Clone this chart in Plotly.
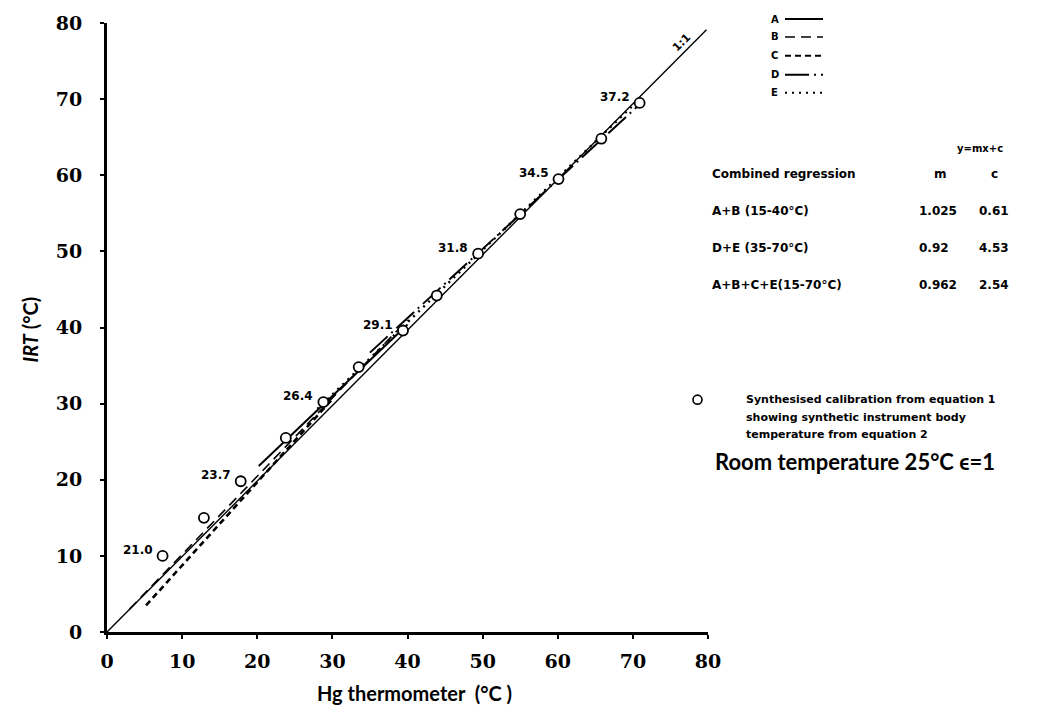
import plotly.graph_objects as go

# ---- data -------------------------------------------------------------
# end points of each calibration line (Hg thermometer °C, IRT °C)
one_to_one_x = [0.0, 79.8]
one_to_one_y = [0.0, 79.1]
A_x = [20.2, 40.0]
A_y = [21.8, 40.4]
B_x = [3.0, 40.0]
B_y = [3.0, 41.0]
C_x = [5.2, 30.0]
C_y = [3.5, 30.6]
D_x = [35.0, 70.9]
D_y = [36.7, 69.3]
E_x = [28.0, 71.0]
E_y = [29.3, 70.1]

# synthesised calibration (equation 1) and instrument body temperature (equation 2)
synth_x = [7.4, 12.9, 17.8, 23.8, 28.8, 33.5, 39.4, 43.9, 49.4, 55.0, 60.1, 65.8, 70.9]
synth_y = [10.0, 15.0, 19.8, 25.5, 30.2, 34.8, 39.6, 44.2, 49.7, 54.9, 59.5, 64.8, 69.5]
body_temp = ["21.0", "", "23.7", "", "26.4", "", "29.1", "", "31.8", "", "34.5", "", "37.2"]

# combined regressions y = m x + c
reg_names = ["A+B (15-40°C)", "D+E (35-70°C)", "A+B+C+E(15-70°C)"]
reg_m = ["1.025", "0.92", "0.962"]
reg_c = ["0.61", "4.53", "2.54"]

tick_vals = [0, 10, 20, 30, 40, 50, 60, 70, 80]

# ---- styling ----------------------------------------------------------
W, H = 1042, 717
L, R, T, B = 107, 708, 20, 632          # plot-area edges in pixels
INK = "black"
SMALL = dict(family="DejaVu Sans", size=11, color=INK, weight="bold")

line_styles = {
    "A": dict(dash="solid", width=2.0),
    "B": dict(dash="10px,6px", width=1.6),
    "C": dict(dash="6px,4px", width=2.6),
    "D": dict(dash="24px,5px,2px,5px", width=2.0),
    "E": dict(dash="2px,5px", width=2.4),
}
series = {"A": (A_x, A_y), "B": (B_x, B_y), "C": (C_x, C_y),
          "D": (D_x, D_y), "E": (E_x, E_y)}


def px(xp):
    return (xp - L) / (R - L)


def py(yp):
    return (B - yp) / (B - T)


def note(xp, yp, text, font, xanchor="center", **kw):
    """Text placed by pixel position, anchored explicitly."""
    return dict(x=px(xp), y=py(yp), xref="paper", yref="paper", text=text,
                showarrow=False, xanchor=xanchor, yanchor="middle", font=font, **kw)


fig = go.Figure()

fig.add_trace(go.Scatter(x=one_to_one_x, y=one_to_one_y, mode="lines",
                         line=dict(color=INK, width=1.4), showlegend=False,
                         hoverinfo="skip"))
for name, (xs, ys) in series.items():
    st = line_styles[name]
    fig.add_trace(go.Scatter(x=xs, y=ys, mode="lines", name=name,
                             line=dict(color=INK, width=st["width"], dash=st["dash"]),
                             showlegend=False))

fig.add_trace(go.Scatter(x=synth_x, y=synth_y, mode="markers",
                         marker=dict(symbol="circle", size=10, color="white",
                                     line=dict(color=INK, width=1.8)),
                         showlegend=False))

ann = []
# body temperature labels beside the synthesised points
for xv, yv, lab in zip(synth_x, synth_y, body_temp):
    if lab:
        ann.append(dict(x=xv, y=yv, xref="x", yref="y", text=lab, showarrow=False,
                        xanchor="center", yanchor="middle",
                        xshift=-25, yshift=6, font=dict(SMALL, size=12)))

# 1:1 label along the line
ann.append(dict(x=76.5, y=77.4, xref="x", yref="y", text="1:1", showarrow=False,
                xanchor="center", yanchor="middle",
                textangle=-45, font=dict(SMALL, size=11)))

# axis titles
TITLE = dict(family="Lato", size=20, color=INK, weight="bold")
ann.append(note(414, 693, "Hg thermometer  (°C )", TITLE))
ann.append(note(30, 328, "<i>IRT</i> (°C)", TITLE, textangle=-90))

# line key
shapes = []
key_rows = [16, 34, 53, 72, 90]
for name, yrow in zip(series.keys(), key_rows):
    st = line_styles[name]
    ann.append(note(775, yrow, name, dict(SMALL, size=10)))
    shapes.append(dict(type="line", xref="paper", yref="paper",
                       x0=px(785), x1=px(823), y0=py(yrow), y1=py(yrow),
                       line=dict(color=INK, width=min(st["width"], 2.0), dash=st["dash"])))

# regression table
TAB = dict(SMALL, size=12)
ann.append(note(980, 146, "y=mx+c", dict(SMALL, size=10)))
ann.append(note(710, 172, "Combined regression", TAB, xanchor="left"))
ann.append(note(940, 172, "m", TAB))
ann.append(note(994, 172, "c", TAB))
for i, (nm, m, c) in enumerate(zip(reg_names, reg_m, reg_c)):
    yrow = 209 + i * 37
    ann.append(note(710, yrow, nm, TAB, xanchor="left"))
    ann.append(note(917, yrow, m, TAB, xanchor="left"))
    ann.append(note(977, yrow, c, TAB, xanchor="left"))

# key for the synthesised points
shapes.append(dict(type="circle", xref="paper", yref="paper",
                   x0=px(693), x1=px(702), y0=py(394), y1=py(403),
                   line=dict(color=INK, width=1.6), fillcolor="white"))
key_text = ["Synthesised calibration from equation 1",
            "showing synthetic instrument body",
            "temperature from equation 2"]
for i, t in enumerate(key_text):
    ann.append(note(744, 398 + i * 18, t, SMALL, xanchor="left"))

ann.append(note(855, 461, "Room temperature 25°C ϵ=1",
                dict(family="Lato", size=22, color=INK, weight="bold")))

axis_common = dict(range=[0, 80], tickvals=tick_vals, showgrid=False, zeroline=False,
                   showline=True, linecolor=INK, linewidth=3, ticks="outside",
                   tickcolor=INK, tickwidth=2, ticklen=4,
                   tickfont=dict(family="DejaVu Serif", size=19, color=INK, weight="bold"))

fig.update_layout(
    width=W, height=H, autosize=False,
    margin=dict(l=L, r=W - R, t=T, b=H - B, pad=0),
    paper_bgcolor="white", plot_bgcolor="white",
    xaxis=dict(axis_common, ticklabelstandoff=6),
    yaxis=dict(axis_common, ticklabelstandoff=14),
    annotations=ann, shapes=shapes, showlegend=False,
)

fig.write_html("out.html")
